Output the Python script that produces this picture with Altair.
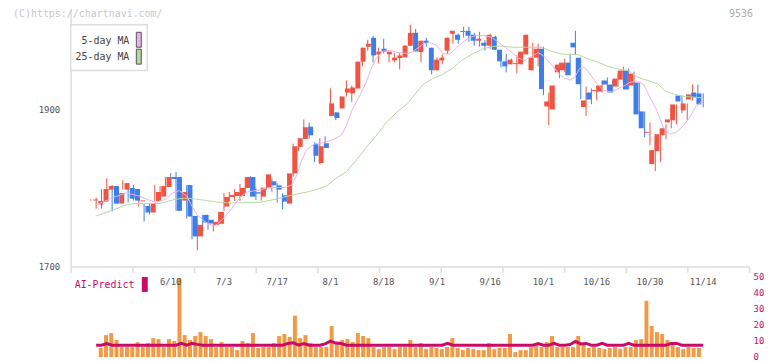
import altair as alt
import pandas as pd

# ---------------- data ----------------
opens = [
    1784.4, 1779.1, 1782.9, 1798.2, 1802.8, 1780.4, 1798.2, 1800.3, 1799.0, 1783.2,
    1777.4, 1769.0, 1783.8, 1789.3, 1801.6, 1814.3, 1814.3, 1784.2, 1804.1, 1764.7,
    1738.5, 1766.0, 1759.7, 1753.3, 1754.6, 1776.6, 1788.9, 1790.1, 1790.1, 1800.3,
    1814.3, 1794.8, 1789.3, 1800.7, 1808.8, 1803.7, 1791.0, 1780.4, 1818.9, 1852.8,
    1862.9, 1878.6, 1856.2, 1832.1, 1857.5, 1892.2, 1896.8, 1901.9, 1922.2, 1921.0,
    1927.3, 1961.6, 1980.6, 1992.1, 1970.9, 1978.1, 1970.9, 1963.3, 1966.2, 1967.1,
    1981.9, 1998.4, 1973.9, 1988.3, 1979.4, 1950.6, 1963.3, 1975.6, 1997.1, 1995.9,
    1999.5, 2001.0, 1995.9, 1988.3, 1985.7, 1981.9, 1993.3, 1976.8, 1962.0, 1958.2,
    1958.4, 1958.2, 1970.9, 1950.6, 1966.7, 1978.1, 1904.4, 1900.6, 1948.0, 1950.6,
    1960.3, 1985.7, 1966.7, 1903.6, 1922.2, 1924.2, 1923.5, 1937.5, 1932.4, 1929.8,
    1938.7, 1950.2, 1931.1, 1934.9, 1898.1, 1870.8, 1830.8, 1847.3, 1867.6, 1884.1,
    1886.7, 1918.4, 1899.4, 1913.3, 1922.2, 1921.0,
]
closes = [
    1785.6, 1783.8, 1799.0, 1802.8, 1780.4, 1793.9, 1806.6, 1786.7, 1784.2, 1784.4,
    1769.0, 1781.2, 1795.2, 1802.8, 1814.3, 1811.7, 1771.1, 1795.2, 1763.9, 1738.5,
    1753.3, 1756.3, 1755.0, 1757.1, 1769.8, 1788.9, 1791.4, 1795.2, 1800.3, 1814.3,
    1789.3, 1793.1, 1800.7, 1817.7, 1803.7, 1798.2, 1782.9, 1818.9, 1853.6, 1863.8,
    1877.8, 1867.6, 1841.4, 1853.6, 1851.5, 1908.3, 1889.6, 1917.1, 1927.3, 1928.6,
    1961.6, 1979.4, 1984.4, 1969.6, 1974.3, 1974.3, 1974.3, 1966.7, 1969.6, 1981.9,
    1998.4, 1974.7, 1988.3, 1985.7, 1950.6, 1964.1, 1966.7, 1992.1, 2001.0, 1989.5,
    2000.7, 1994.6, 1988.3, 1990.8, 1981.9, 1995.9, 1976.8, 1962.0, 1955.6, 1964.1,
    1959.6, 1974.3, 1995.9, 1966.7, 1978.1, 1926.5, 1910.8, 1931.1, 1957.8, 1960.3,
    1944.2, 1979.8, 1932.8, 1912.0, 1913.3, 1925.4, 1931.1, 1932.4, 1922.2, 1940.0,
    1950.2, 1926.0, 1946.3, 1894.3, 1876.5, 1872.0, 1848.6, 1868.9, 1876.5, 1887.9,
    1907.0, 1910.8, 1908.3, 1919.7, 1915.9, 1907.0,
]
highs = [
    1786.0, 1788.0, 1799.0, 1812.6, 1804.1, 1794.5, 1810.5, 1804.1, 1804.1, 1789.3,
    1780.0, 1781.2, 1804.1, 1802.8, 1814.3, 1819.3, 1820.6, 1805.4, 1804.1, 1764.7,
    1753.3, 1766.0, 1766.0, 1759.7, 1769.8, 1793.9, 1795.2, 1799.0, 1805.4, 1814.3,
    1815.5, 1799.9, 1800.7, 1817.7, 1812.6, 1806.2, 1793.5, 1818.9, 1857.0, 1863.8,
    1887.9, 1883.7, 1858.7, 1863.8, 1866.3, 1927.3, 1896.8, 1917.1, 1937.5, 1931.1,
    1961.6, 1979.4, 1989.5, 1994.6, 1979.4, 1990.8, 1974.3, 1973.0, 1973.0, 1983.0,
    2008.6, 2003.5, 1988.3, 1992.1, 1979.4, 1967.1, 1970.9, 1992.1, 2001.0, 1997.1,
    2006.0, 2006.0, 1998.4, 1999.7, 1989.0, 1997.1, 1994.6, 1976.8, 1971.7, 1965.4,
    1969.6, 1974.3, 1995.9, 1985.7, 1984.4, 1980.6, 1922.2, 1931.1, 1960.3, 1965.4,
    1971.7, 2001.0, 1966.7, 1929.8, 1927.3, 1931.1, 1937.5, 1941.3, 1937.5, 1946.3,
    1955.2, 1952.7, 1948.9, 1934.9, 1898.1, 1884.1, 1858.7, 1874.0, 1881.6, 1903.2,
    1907.0, 1918.4, 1908.3, 1932.4, 1932.4, 1921.0,
]
lows = [
    1784.0, 1774.0, 1774.0, 1793.9, 1770.2, 1780.0, 1798.2, 1781.7, 1784.2, 1776.6,
    1757.5, 1766.4, 1783.8, 1783.8, 1801.6, 1804.1, 1771.1, 1784.2, 1761.3, 1734.7,
    1720.7, 1744.8, 1747.0, 1744.8, 1753.3, 1771.1, 1783.8, 1783.8, 1783.8, 1793.9,
    1789.3, 1785.1, 1784.2, 1797.8, 1795.6, 1781.7, 1772.8, 1780.4, 1814.7, 1847.7,
    1862.9, 1862.9, 1833.3, 1830.8, 1851.5, 1892.2, 1887.1, 1901.9, 1917.1, 1909.9,
    1927.3, 1955.6, 1975.6, 1960.7, 1959.5, 1972.0, 1960.7, 1960.7, 1951.8, 1967.1,
    1981.9, 1974.7, 1960.7, 1980.6, 1945.5, 1950.6, 1958.2, 1970.9, 1984.4, 1984.4,
    1992.1, 1987.0, 1981.9, 1980.6, 1975.6, 1978.1, 1976.8, 1954.4, 1948.0, 1958.2,
    1946.8, 1958.2, 1970.9, 1950.6, 1955.6, 1918.8, 1880.7, 1900.6, 1940.4, 1948.0,
    1944.2, 1970.9, 1913.7, 1892.2, 1907.4, 1912.0, 1922.2, 1924.8, 1922.2, 1929.8,
    1934.9, 1926.0, 1931.1, 1894.3, 1865.1, 1854.9, 1821.9, 1833.3, 1862.5, 1876.5,
    1881.6, 1895.6, 1886.7, 1912.0, 1909.5, 1903.2,
]
# volume-like bars and AI-Predict line, for days 1..115
volume = [
    5.7, 13.8, 15.1, 10.7, 6.3, 6.3, 6.3, 9.4, 6.3, 8.8,
    11.9, 11.3, 6.3, 11.3, 10.1, 49.7, 13.8, 10.7, 13.2, 15.7,
    13.2, 11.3, 6.3, 9.4, 6.3, 6.3, 4.4, 10.1, 8.8, 15.1,
    5.7, 6.3, 6.3, 8.8, 13.2, 14.5, 12.6, 26.0, 11.9, 13.8,
    8.8, 6.3, 6.3, 6.3, 19.5, 8.2, 10.7, 11.3, 9.4, 15.1,
    13.2, 11.9, 6.3, 5.0, 6.3, 6.3, 5.0, 6.3, 6.3, 10.7,
    6.3, 8.8, 5.0, 6.3, 5.7, 5.0, 6.3, 11.9, 5.7, 4.4,
    5.7, 5.0, 4.4, 4.4, 8.8, 5.0, 5.7, 5.7, 14.5, 3.1,
    4.4, 4.4, 6.3, 8.8, 6.3, 9.4, 13.2, 6.3, 6.3, 6.3,
    6.3, 13.2, 8.8, 5.7, 6.3, 5.7, 5.0, 5.7, 6.3, 5.0,
    6.3, 6.3, 10.7, 11.3, 35.4, 19.5, 15.7, 14.5, 10.7, 8.2,
    6.3, 5.0, 6.3, 5.7, 5.7,
]
ai_predict = [
    7.5, 7.5, 8.5, 7.5, 7.5, 7.5, 7.5, 7.5, 7.5, 7.5,
    7.5, 7.5, 7.5, 7.5, 7.5, 7.5, 8.6, 7.5, 8.6, 8.0,
    7.5, 7.5, 7.5, 7.5, 7.5, 7.5, 7.5, 7.5, 7.5, 7.5,
    7.5, 7.5, 7.5, 7.5, 7.5, 7.5, 8.6, 9.0, 7.5, 8.5,
    7.5, 7.5, 7.5, 8.3, 10.0, 8.8, 8.6, 7.5, 7.5, 7.5,
    7.5, 7.5, 7.5, 7.5, 7.5, 7.5, 7.5, 7.5, 7.5, 7.5,
    7.5, 7.5, 7.5, 7.5, 7.5, 7.5, 8.6, 7.5, 7.5, 7.5,
    7.5, 7.5, 7.5, 7.5, 7.5, 7.5, 7.5, 7.5, 7.5, 7.5,
    7.5, 7.5, 7.5, 8.5, 7.5, 7.5, 8.6, 7.5, 7.5, 7.9,
    9.9, 8.3, 8.6, 7.5, 7.5, 8.6, 7.5, 7.5, 7.5, 7.5,
    8.6, 7.5, 7.5, 7.5, 7.5, 7.5, 7.5, 7.5, 8.6, 8.6,
    7.5, 7.5, 7.5, 7.5, 7.5,
]
ma5_day = [0.9, 2.2, 4.1, 6.6, 9.1, 10.9, 12.2, 14.1, 15.3, 16.6, 18, 19, 20, 21, 22,
           23.4, 25, 26.5, 28, 29.3, 31, 33, 35, 36.5, 37.7, 38.7, 39.6, 40.5, 42.1,
           43.6, 45.5, 47.1, 48, 49.2, 50.5, 51.7, 52.6, 53.6, 54.8, 56.1, 57.9, 59.5,
           60.4, 62.4, 63.6, 64.8, 66.1, 67.3, 68.5, 69.8, 71, 72.3, 74.1, 75.4, 76.6,
           77.8, 79.1, 80.3, 81.6, 82.6, 84, 85, 86.5, 87.9, 88.8, 90, 90.9, 91.8,
           92.8, 93.7, 94.9, 96.2, 97.8, 99, 100.3, 101.2, 102.5, 103.8, 105, 106.3,
           107.5, 108.8, 110, 111.3, 112.5, 113.7, 115]
ma5_val = [1779, 1782, 1788, 1794, 1790, 1785, 1782, 1786, 1794, 1797, 1790, 1777, 1766,
           1760, 1754, 1752, 1762, 1774, 1788, 1795, 1797, 1800, 1801, 1801, 1804, 1817,
           1836, 1849, 1857, 1858, 1862, 1868, 1880, 1902, 1918, 1935, 1952, 1966, 1975,
           1976, 1973, 1972, 1974, 1984, 1986, 1983, 1972, 1971, 1978, 1986, 1992, 1995,
           1995, 1992, 1986, 1980, 1973, 1966, 1963, 1968, 1973, 1969, 1958, 1946, 1941,
           1938, 1942, 1953, 1954, 1946, 1935, 1925, 1923, 1927, 1931, 1935, 1937, 1933,
           1916, 1899, 1878, 1869, 1872, 1880, 1891, 1905, 1912]
ma25_day = [0.9, 4.1, 6.9, 9.1, 12.8, 15.6, 17.5, 19.4, 21.5, 23.6, 26.2, 28.7, 31.8, 34,
            36.8, 38.6, 40.5, 42.1, 44.3, 46.1, 48, 50, 51.7, 53.5, 55.5, 57.3, 59.4,
            60.4, 62.3, 64.2, 66, 67.9, 69.8, 71.6, 73.5, 75.4, 77.2, 79.1, 81.6, 84.7,
            86.6, 88.4, 91.5, 93.4, 95.3, 97.1, 99, 100.9, 102.7, 104.6, 106.5, 107.7,
            109.6, 111.5, 113.3, 114.6]
ma25_val = [1764.4, 1772, 1779.5, 1780.7, 1780.4, 1785.5, 1787.4, 1786.5, 1784.5, 1782.5,
            1781, 1782, 1782, 1785, 1789.5, 1792.5, 1795, 1797.8, 1803, 1813, 1821, 1837,
            1852, 1866, 1884, 1896, 1908, 1916, 1932, 1940, 1945, 1953, 1964, 1971,
            1977.7, 1981, 1981.5, 1980, 1980, 1979.8, 1974.7, 1971.3, 1970.5, 1965,
            1960.7, 1955.6, 1952.3, 1950.2, 1941.7, 1937.5, 1933.2, 1924.8, 1919.7,
            1917.1, 1916.3, 1915.4]
date_day = [15, 25, 35, 45, 55, 65, 75, 85, 95, 105, 115]
date_labels = ["6/10", "7/3", "7/17", "8/1", "8/18", "9/1", "9/16", "10/1", "10/16",
               "10/30", "11/14"]
price_ticks = [1700, 1900]
volume_ticks = [0, 10, 20, 30, 40, 50]

# ---------------- layout / style ----------------
MONO = "DejaVu Sans Mono"
RED, BLUE = "#ef5442", "#3f7ee9"
ORANGE, CRIMSON = "#f19a45", "#cc0a66"
PINK, GREEN = "#e8b2ea", "#b3d9a3"
AXIS_GRAY = "#dddddd"

W, H = 682, 350
STEP = 5.357                      # px per day
X_MIN = -20.3 / STEP
X_MAX = X_MIN + 682.5 / STEP
tick_pos = [X_MIN + 62 * j / STEP for j in range(12)]

xs = alt.Scale(domain=[X_MIN, X_MAX], nice=False, zero=False)
ps = alt.Scale(domain=[1700, 1700 + 259 / 0.7875], range=[259, 0], nice=False, zero=False)
vs = alt.Scale(domain=[0, 50], range=[350, 270], nice=False, zero=True)

n = len(opens)
candles = pd.DataFrame({"k": list(range(n)), "open": opens, "close": closes,
                        "high": highs, "low": lows})
candles["dir"] = ["up" if c >= o else "down" for o, c in zip(opens, closes)]
vol_df = pd.DataFrame({"k": list(range(1, n)), "v": volume, "ai": ai_predict})
ma5_df = pd.DataFrame({"k": ma5_day, "v": ma5_val})
ma25_df = pd.DataFrame({"k": ma25_day, "v": ma25_val})
dates_df = pd.DataFrame({"k": date_day, "label": date_labels})
one = pd.DataFrame({"a": [0]})

color = alt.Color("dir:N", scale=alt.Scale(domain=["up", "down"], range=[RED, BLUE]),
                  legend=None)
xna = alt.X("k:Q", scale=xs, axis=None)

wick = alt.Chart(candles).mark_rule(strokeWidth=1).encode(
    x=alt.X("k:Q", scale=xs, axis=alt.Axis(
        values=tick_pos, labels=False, ticks=True, tickSize=6, tickWidth=1.5,
        tickColor=AXIS_GRAY, domainColor=AXIS_GRAY, domainWidth=1.5, grid=False,
        title=None, offset=-91)),
    y=alt.Y("low:Q", scale=ps, axis=alt.Axis(
        values=price_ticks, format="d", ticks=False, domainColor=AXIS_GRAY,
        domainWidth=1.5, labelFont=MONO, labelFontSize=9, labelColor="#555555",
        labelPadding=11, grid=False, title=None)),
    y2="high:Q",
    color=color,
)
body = alt.Chart(candles).mark_bar(size=5).encode(
    x=xna, y=alt.Y("open:Q", scale=ps, axis=None), y2="close:Q", color=color)

ma5 = alt.Chart(ma5_df).mark_line(strokeWidth=1, color=PINK).encode(
    x=xna, y=alt.Y("v:Q", scale=ps, axis=None))
ma25 = alt.Chart(ma25_df).mark_line(strokeWidth=1, color=GREEN).encode(
    x=xna, y=alt.Y("v:Q", scale=ps, axis=None))

vbars = alt.Chart(vol_df).mark_bar(size=4, color=ORANGE).encode(
    x=xna,
    y=alt.Y("v:Q", scale=vs, axis=alt.Axis(
        orient="right", values=volume_ticks, ticks=False, domain=False,
        labelColor=CRIMSON, labelFont=MONO, labelFontSize=9, labelPadding=4,
        labelOffset=-1, grid=False, title=None)))
ailine = alt.Chart(vol_df).mark_line(strokeWidth=3, color=CRIMSON).encode(
    x=xna, y=alt.Y("ai:Q", scale=vs, axis=None))

dates = alt.Chart(dates_df).mark_text(font=MONO, fontSize=9, color="#555555",
                                      baseline="middle").encode(
    x=xna, y=alt.value(275), text="label:N")

# annotations
legend_box = alt.Chart(one).mark_rect(fill="white", stroke=AXIS_GRAY, strokeWidth=1.5).encode(
    x=alt.value(0), x2=alt.value(77), y=alt.value(16), y2=alt.value(62))
sw1 = alt.Chart(one).mark_rect(fill=PINK, stroke="#555555", strokeWidth=1).encode(
    x=alt.value(66), x2=alt.value(71), y=alt.value(23.5), y2=alt.value(38.5))
sw2 = alt.Chart(one).mark_rect(fill=GREEN, stroke="#555555", strokeWidth=1).encode(
    x=alt.value(66), x2=alt.value(71), y=alt.value(40.5), y2=alt.value(55.5))
lt1 = alt.Chart(one).mark_text(text="5-day MA", font=MONO, fontSize=10, color="#444444",
                               align="right", baseline="middle").encode(
    x=alt.value(59), y=alt.value(32))
lt2 = alt.Chart(one).mark_text(text="25-day MA", font=MONO, fontSize=10, color="#444444",
                               align="right", baseline="middle").encode(
    x=alt.value(59), y=alt.value(48))
wm = alt.Chart(one).mark_text(text="(C)https://chartnavi.com/", font=MONO, fontSize=10,
                              color="#c8c8c8", align="left", baseline="middle").encode(
    x=alt.value(-58), y=alt.value(5))
code = alt.Chart(one).mark_text(text="9536", font=MONO, fontSize=10, color="#aaaaaa",
                                align="right", baseline="middle").encode(
    x=alt.value(686), y=alt.value(5))
ai_txt = alt.Chart(one).mark_text(text="AI-Predict", font=MONO, fontSize=10, color=CRIMSON,
                                  align="left", baseline="middle").encode(
    x=alt.value(4), y=alt.value(278))
ai_sw = alt.Chart(one).mark_rect(fill=CRIMSON).encode(
    x=alt.value(71.5), x2=alt.value(77.5), y=alt.value(269.5), y2=alt.value(284.5))

chart = alt.layer(
    wick, body, ma25, ma5, vbars, ailine, dates,
    legend_box, sw1, sw2, lt1, lt2, wm, code, ai_txt, ai_sw,
).resolve_scale(x="independent", y="independent").properties(
    width=W, height=H,
    autosize=alt.AutoSizeParams(type="none"),
    padding={"left": 63, "right": 15, "top": 0, "bottom": 3},
).configure_view(stroke=None)

chart.save("out.html", embed_options={"renderer": "svg", "actions": False})
